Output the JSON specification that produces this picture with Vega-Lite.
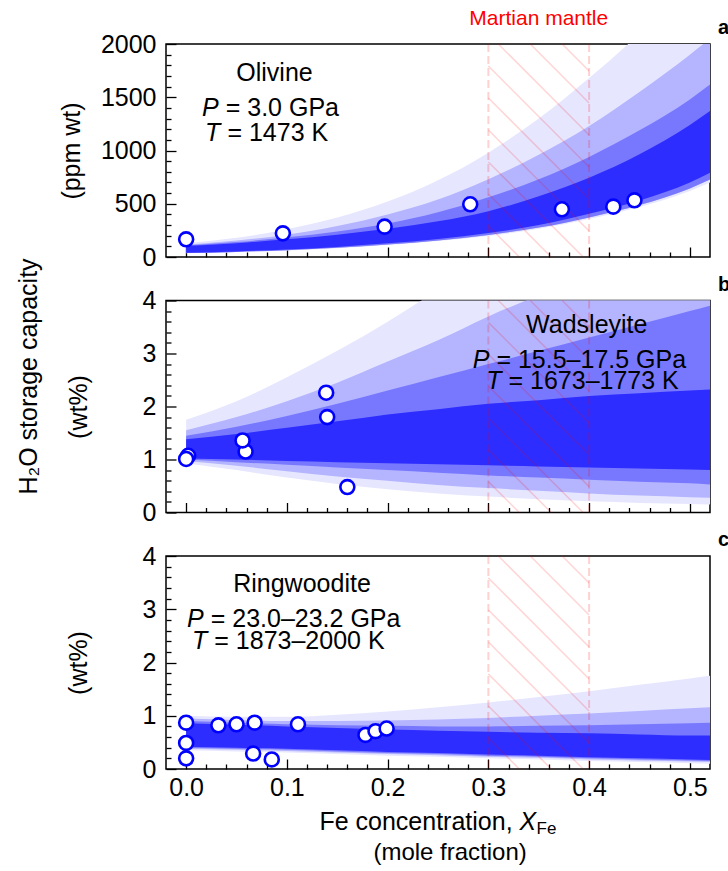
{
  "$schema": "https://vega.github.io/schema/vega-lite/v6.json",
  "padding": {"left": 15, "top": 7, "right": 0, "bottom": 0},
  "bounds": "flush",
  "spacing": 43.5,
  "background": "white",
  "config": {
    "view": {"stroke": "black", "strokeWidth": 1.5},
    "font": "Liberation Sans",
    "axis": {"grid": false, "domain": false, "tickColor": "black", "tickWidth": 1.3, "labelColor": "black", "labelFont": "Liberation Sans", "labelFontSize": 25, "titleFont": "Liberation Sans", "titleFontSize": 25, "titleFontWeight": "normal", "titleColor": "black", "labelOverlap": false, "labelFlush": false, "zindex": 1}
  },
  "datasets": {
    "bandA": [
      {"x":0,"lvl":4,"lo":40,"hi":103},{"x":0.05,"lvl":4,"lo":52,"hi":130},{"x":0.1,"lvl":4,"lo":70,"hi":166},{"x":0.15,"lvl":4,"lo":95,"hi":210},{"x":0.2,"lvl":4,"lo":128,"hi":265},{"x":0.25,"lvl":4,"lo":170,"hi":335},{"x":0.3,"lvl":4,"lo":225,"hi":430},{"x":0.35,"lvl":4,"lo":300,"hi":570},{"x":0.4,"lvl":4,"lo":405,"hi":745},{"x":0.45,"lvl":4,"lo":530,"hi":965},{"x":0.5,"lvl":4,"lo":700,"hi":1240},{"x":0.52,"lvl":4,"lo":790,"hi":1370},
      {"x":0,"lvl":3,"lo":37,"hi":108},{"x":0.05,"lvl":3,"lo":48,"hi":140},{"x":0.1,"lvl":3,"lo":64,"hi":185},{"x":0.15,"lvl":3,"lo":87,"hi":240},{"x":0.2,"lvl":3,"lo":117,"hi":315},{"x":0.25,"lvl":3,"lo":156,"hi":420},{"x":0.3,"lvl":3,"lo":207,"hi":560},{"x":0.35,"lvl":3,"lo":276,"hi":730},{"x":0.4,"lvl":3,"lo":372,"hi":940},{"x":0.45,"lvl":3,"lo":488,"hi":1190},{"x":0.5,"lvl":3,"lo":644,"hi":1480},{"x":0.52,"lvl":3,"lo":727,"hi":1620},
      {"x":0,"lvl":2,"lo":37,"hi":115},{"x":0.05,"lvl":2,"lo":48,"hi":155},{"x":0.1,"lvl":2,"lo":64,"hi":210},{"x":0.15,"lvl":2,"lo":87,"hi":290},{"x":0.2,"lvl":2,"lo":117,"hi":400},{"x":0.25,"lvl":2,"lo":156,"hi":540},{"x":0.3,"lvl":2,"lo":207,"hi":730},{"x":0.35,"lvl":2,"lo":276,"hi":960},{"x":0.4,"lvl":2,"lo":372,"hi":1230},{"x":0.45,"lvl":2,"lo":488,"hi":1550},{"x":0.5,"lvl":2,"lo":644,"hi":1900},{"x":0.52,"lvl":2,"lo":727,"hi":2050},
      {"x":0,"lvl":1,"lo":35,"hi":130},{"x":0.05,"lvl":1,"lo":46,"hi":180},{"x":0.1,"lvl":1,"lo":61,"hi":260},{"x":0.15,"lvl":1,"lo":83,"hi":370},{"x":0.2,"lvl":1,"lo":112,"hi":520},{"x":0.25,"lvl":1,"lo":150,"hi":720},{"x":0.3,"lvl":1,"lo":198,"hi":980},{"x":0.35,"lvl":1,"lo":265,"hi":1300},{"x":0.4,"lvl":1,"lo":357,"hi":1680},{"x":0.45,"lvl":1,"lo":470,"hi":2100},{"x":0.5,"lvl":1,"lo":620,"hi":2600},{"x":0.52,"lvl":1,"lo":700,"hi":2800}
    ],
    "bandB": [
      {"x":0,"lvl":4,"lo":1.02,"hi":1.38},{"x":0.05,"lvl":4,"lo":1.0,"hi":1.48},{"x":0.1,"lvl":4,"lo":0.97,"hi":1.6},{"x":0.15,"lvl":4,"lo":0.95,"hi":1.72},{"x":0.2,"lvl":4,"lo":0.93,"hi":1.85},{"x":0.25,"lvl":4,"lo":0.91,"hi":1.95},{"x":0.3,"lvl":4,"lo":0.89,"hi":2.05},{"x":0.35,"lvl":4,"lo":0.87,"hi":2.12},{"x":0.4,"lvl":4,"lo":0.85,"hi":2.2},{"x":0.45,"lvl":4,"lo":0.83,"hi":2.25},{"x":0.5,"lvl":4,"lo":0.81,"hi":2.3},{"x":0.52,"lvl":4,"lo":0.8,"hi":2.32},
      {"x":0,"lvl":3,"lo":1.0,"hi":1.45},{"x":0.05,"lvl":3,"lo":0.95,"hi":1.62},{"x":0.1,"lvl":3,"lo":0.9,"hi":1.82},{"x":0.15,"lvl":3,"lo":0.85,"hi":2.05},{"x":0.2,"lvl":3,"lo":0.8,"hi":2.3},{"x":0.25,"lvl":3,"lo":0.75,"hi":2.55},{"x":0.3,"lvl":3,"lo":0.7,"hi":2.8},{"x":0.35,"lvl":3,"lo":0.66,"hi":3.05},{"x":0.4,"lvl":3,"lo":0.62,"hi":3.3},{"x":0.45,"lvl":3,"lo":0.58,"hi":3.55},{"x":0.5,"lvl":3,"lo":0.55,"hi":3.8},{"x":0.52,"lvl":3,"lo":0.53,"hi":3.9},
      {"x":0,"lvl":2,"lo":0.97,"hi":1.55},{"x":0.05,"lvl":2,"lo":0.88,"hi":1.8},{"x":0.1,"lvl":2,"lo":0.78,"hi":2.1},{"x":0.15,"lvl":2,"lo":0.68,"hi":2.45},{"x":0.2,"lvl":2,"lo":0.6,"hi":2.85},{"x":0.25,"lvl":2,"lo":0.52,"hi":3.25},{"x":0.3,"lvl":2,"lo":0.46,"hi":3.7},{"x":0.35,"lvl":2,"lo":0.41,"hi":4.1},{"x":0.4,"lvl":2,"lo":0.36,"hi":4.5},{"x":0.45,"lvl":2,"lo":0.32,"hi":4.9},{"x":0.5,"lvl":2,"lo":0.29,"hi":5.3},{"x":0.52,"lvl":2,"lo":0.28,"hi":5.5},
      {"x":0,"lvl":1,"lo":0.93,"hi":1.75},{"x":0.05,"lvl":1,"lo":0.8,"hi":2.1},{"x":0.1,"lvl":1,"lo":0.66,"hi":2.55},{"x":0.15,"lvl":1,"lo":0.54,"hi":3.05},{"x":0.2,"lvl":1,"lo":0.44,"hi":3.6},{"x":0.25,"lvl":1,"lo":0.36,"hi":4.2},{"x":0.3,"lvl":1,"lo":0.3,"hi":4.8},{"x":0.35,"lvl":1,"lo":0.25,"hi":5.4},{"x":0.4,"lvl":1,"lo":0.21,"hi":6.0},{"x":0.45,"lvl":1,"lo":0.18,"hi":6.6},{"x":0.5,"lvl":1,"lo":0.16,"hi":7.2},{"x":0.52,"lvl":1,"lo":0.15,"hi":7.5}
    ],
    "bandC": [
      {"x":0,"lvl":4,"lo":0.42,"hi":0.86},{"x":0.05,"lvl":4,"lo":0.4,"hi":0.83},{"x":0.1,"lvl":4,"lo":0.38,"hi":0.8},{"x":0.15,"lvl":4,"lo":0.35,"hi":0.77},{"x":0.2,"lvl":4,"lo":0.32,"hi":0.74},{"x":0.25,"lvl":4,"lo":0.3,"hi":0.72},{"x":0.3,"lvl":4,"lo":0.27,"hi":0.7},{"x":0.35,"lvl":4,"lo":0.25,"hi":0.68},{"x":0.4,"lvl":4,"lo":0.22,"hi":0.67},{"x":0.45,"lvl":4,"lo":0.2,"hi":0.65},{"x":0.5,"lvl":4,"lo":0.18,"hi":0.63},{"x":0.52,"lvl":4,"lo":0.17,"hi":0.63},
      {"x":0,"lvl":3,"lo":0.4,"hi":0.9},{"x":0.05,"lvl":3,"lo":0.38,"hi":0.87},{"x":0.1,"lvl":3,"lo":0.36,"hi":0.84},{"x":0.15,"lvl":3,"lo":0.33,"hi":0.82},{"x":0.2,"lvl":3,"lo":0.3,"hi":0.81},{"x":0.25,"lvl":3,"lo":0.28,"hi":0.8},{"x":0.3,"lvl":3,"lo":0.25,"hi":0.8},{"x":0.35,"lvl":3,"lo":0.23,"hi":0.81},{"x":0.4,"lvl":3,"lo":0.2,"hi":0.82},{"x":0.45,"lvl":3,"lo":0.18,"hi":0.84},{"x":0.5,"lvl":3,"lo":0.16,"hi":0.86},{"x":0.52,"lvl":3,"lo":0.15,"hi":0.87},
      {"x":0,"lvl":2,"lo":0.38,"hi":0.95},{"x":0.05,"lvl":2,"lo":0.36,"hi":0.92},{"x":0.1,"lvl":2,"lo":0.34,"hi":0.9},{"x":0.15,"lvl":2,"lo":0.31,"hi":0.9},{"x":0.2,"lvl":2,"lo":0.28,"hi":0.91},{"x":0.25,"lvl":2,"lo":0.26,"hi":0.93},{"x":0.3,"lvl":2,"lo":0.23,"hi":0.96},{"x":0.35,"lvl":2,"lo":0.21,"hi":1.0},{"x":0.4,"lvl":2,"lo":0.18,"hi":1.04},{"x":0.45,"lvl":2,"lo":0.16,"hi":1.09},{"x":0.5,"lvl":2,"lo":0.14,"hi":1.14},{"x":0.52,"lvl":2,"lo":0.13,"hi":1.16},
      {"x":0,"lvl":1,"lo":0.35,"hi":1.0},{"x":0.05,"lvl":1,"lo":0.33,"hi":0.98},{"x":0.1,"lvl":1,"lo":0.31,"hi":0.98},{"x":0.15,"lvl":1,"lo":0.28,"hi":1.02},{"x":0.2,"lvl":1,"lo":0.25,"hi":1.08},{"x":0.25,"lvl":1,"lo":0.23,"hi":1.16},{"x":0.3,"lvl":1,"lo":0.2,"hi":1.25},{"x":0.35,"lvl":1,"lo":0.18,"hi":1.35},{"x":0.4,"lvl":1,"lo":0.15,"hi":1.46},{"x":0.45,"lvl":1,"lo":0.13,"hi":1.58},{"x":0.5,"lvl":1,"lo":0.11,"hi":1.7},{"x":0.52,"lvl":1,"lo":0.1,"hi":1.75}
    ],
    "ptsA": [{"x":0,"y":166},{"x":0.096,"y":222},{"x":0.197,"y":285},{"x":0.282,"y":495},{"x":0.373,"y":448},{"x":0.424,"y":473},{"x":0.445,"y":532}],
    "ptsB": [{"x":0.002,"y":1.07},{"x":0,"y":1.01},{"x":0.059,"y":1.15},{"x":0.056,"y":1.36},{"x":0.139,"y":2.26},{"x":0.14,"y":1.8},{"x":0.16,"y":0.48}],
    "ptsC": [{"x":0,"y":0.87},{"x":0,"y":0.49},{"x":0,"y":0.2},{"x":0.032,"y":0.82},{"x":0.05,"y":0.84},{"x":0.068,"y":0.87},{"x":0.0665,"y":0.29},{"x":0.085,"y":0.18},{"x":0.111,"y":0.84},{"x":0.178,"y":0.64},{"x":0.188,"y":0.71},{"x":0.199,"y":0.76}],
    "mantle": [{"x":0.3},{"x":0.4}],
    "hatchA": [
      {"x":0.3733,"y":2000,"xe":0.4,"ye":1746},{"x":0.3416,"y":2000,"xe":0.4,"ye":1446},{"x":0.3099,"y":2000,"xe":0.4,"ye":1145},
      {"x":0.3,"y":1793,"xe":0.4,"ye":845},{"x":0.3,"y":1493,"xe":0.4,"ye":545},{"x":0.3,"y":1192,"xe":0.4,"ye":244},
      {"x":0.3,"y":892,"xe":0.3941,"ye":0},{"x":0.3,"y":592,"xe":0.3624,"ye":0},{"x":0.3,"y":291,"xe":0.3307,"ye":0}
    ],
    "hatchBC": [
      {"x":0.3733,"y":4,"xe":0.4,"ye":3.493},{"x":0.3416,"y":4,"xe":0.4,"ye":2.892},{"x":0.3099,"y":4,"xe":0.4,"ye":2.291},
      {"x":0.3,"y":3.587,"xe":0.4,"ye":1.69},{"x":0.3,"y":2.986,"xe":0.4,"ye":1.089},{"x":0.3,"y":2.385,"xe":0.4,"ye":0.488},
      {"x":0.3,"y":1.784,"xe":0.3941,"ye":0},{"x":0.3,"y":1.183,"xe":0.3624,"ye":0},{"x":0.3,"y":0.582,"xe":0.3307,"ye":0}
    ],
    "nameA": [{"x":0.0877,"y":1728,"t":"Olivine"}],
    "symA": [{"x":0.0323,"y":1399,"t":"P"},{"x":0.034,"y":1165,"t":"T"}],
    "restA": [{"x":0.0323,"y":1399,"t":"= 3.0 GPa"},{"x":0.034,"y":1165,"t":"= 1473 K"}],
    "mars": [{"x":0.35,"y":2000,"t":"Martian mantle"}],
    "letA": [{"x":0.52,"y":2000,"t":"a"}],
    "nameB": [{"x":0.3977,"y":3.53,"t":"Wadsleyite"}],
    "symB": [{"x":0.301,"y":2.87,"t":"P"},{"x":0.313,"y":2.49,"t":"T"}],
    "restB": [{"x":0.301,"y":2.87,"t":"= 15.5–17.5 GPa"},{"x":0.313,"y":2.49,"t":"= 1673–1773 K"}],
    "letB": [{"x":0.52,"y":4,"t":"b"}],
    "nameC": [{"x":0.115,"y":3.47,"t":"Ringwoodite"}],
    "symC": [{"x":0.0174,"y":2.82,"t":"P"},{"x":0.021,"y":2.4,"t":"T"}],
    "restC": [{"x":0.0174,"y":2.82,"t":"= 23.0–23.2 GPa"},{"x":0.021,"y":2.4,"t":"= 1873–2000 K"}],
    "letC": [{"x":0.52,"y":4,"t":"c"}],
    "xt1": [{"x":0.331,"y":0,"t":"Fe concentration,"}],
    "xt2": [{"x":0.331,"y":0,"t":"X"}],
    "xt3": [{"x":0.331,"y":0,"t":"Fe"}],
    "xt4": [{"x":0.262,"y":0,"t":"(mole fraction)"}]
  },
  "vconcat": [
    {
      "width": 544, "height": 213,
      "resolve": {"axis": {"x": "independent", "y": "independent"}},
      "layer": [
        {
          "data": {"name": "bandA"}, "transform": [{"filter": "datum.lvl == 1"}],
          "mark": {"type": "area", "fill": "#e6e6ff", "clip": true, "interpolate": "monotone"},
          "encoding": {
            "x": {"field": "x", "type": "quantitative", "scale": {"domain": [-0.02, 0.52], "nice": false, "zero": false},
              "axis": {"orient": "bottom", "title": null, "labels": false, "values": [0,0.1,0.2,0.3,0.4,0.5], "tickSize": -10}},
            "y": {"field": "hi", "type": "quantitative", "scale": {"domain": [0, 2000], "nice": false, "zero": false},
              "axis": {"orient": "left", "title": "(ppm wt)", "titleX": -82, "titleY": 106.5, "labelPadding": 20, "labelOverlap": false, "format": "d",
                "values": [0,500,1000,1500,2000], "tickSize": -10}},
            "y2": {"field": "lo"}
          }
        },
        {
          "data": {"name": "bandA"}, "transform": [{"filter": "datum.lvl == 2"}],
          "mark": {"type": "area", "fill": "#b4b4ff", "clip": true, "interpolate": "monotone"},
          "encoding": {
            "x": {"field": "x", "type": "quantitative",
              "axis": {"orient": "bottom", "title": null, "labels": false, "values": [0.02,0.04,0.06,0.08,0.12,0.14,0.16,0.18,0.22,0.24,0.26,0.28,0.32,0.34,0.36,0.38,0.42,0.44,0.46,0.48], "tickSize": -5}},
            "y": {"field": "hi", "type": "quantitative",
              "axis": {"orient": "left", "title": null, "labels": false, "values": [100,200,300,400,600,700,800,900,1100,1200,1300,1400,1600,1700,1800,1900], "tickSize": -5}},
            "y2": {"field": "lo"}
          }
        },
        {
          "data": {"name": "bandA"}, "transform": [{"filter": "datum.lvl == 3"}],
          "mark": {"type": "area", "fill": "#7878ff", "clip": true, "interpolate": "monotone"},
          "encoding": {"x": {"field": "x", "type": "quantitative", "axis": null}, "y": {"field": "hi", "type": "quantitative", "axis": null}, "y2": {"field": "lo"}}
        },
        {
          "data": {"name": "bandA"}, "transform": [{"filter": "datum.lvl == 4"}],
          "mark": {"type": "area", "fill": "#2d2dff", "clip": true, "interpolate": "monotone"},
          "encoding": {"x": {"field": "x", "type": "quantitative", "axis": null}, "y": {"field": "hi", "type": "quantitative", "axis": null}, "y2": {"field": "lo"}}
        },
        {
          "data": {"name": "hatchA"},
          "mark": {"type": "rule", "stroke": "red", "strokeOpacity": 0.17, "strokeWidth": 1.5},
          "encoding": {"x": {"field": "x", "type": "quantitative", "axis": null}, "y": {"field": "y", "type": "quantitative", "axis": null}, "x2": {"field": "xe"}, "y2": {"field": "ye"}}
        },
        {
          "data": {"name": "mantle"},
          "mark": {"type": "rule", "stroke": "red", "strokeOpacity": 0.18, "strokeWidth": 2, "strokeDash": [8, 4]},
          "encoding": {"x": {"field": "x", "type": "quantitative", "axis": null}}
        },
        {
          "data": {"name": "ptsA"},
          "mark": {"type": "circle", "fill": "white", "stroke": "#0000ff", "strokeWidth": 2.6, "size": 195, "opacity": 1},
          "encoding": {"x": {"field": "x", "type": "quantitative", "axis": null}, "y": {"field": "y", "type": "quantitative", "axis": null}}
        },
        {
          "data": {"name": "nameA"},
          "mark": {"type": "text", "align": "center", "baseline": "middle", "fontSize": 25, "fill": "black", "font": "Liberation Sans"},
          "encoding": {"x": {"field": "x", "type": "quantitative", "axis": null}, "y": {"field": "y", "type": "quantitative", "axis": null}, "text": {"field": "t"}}
        },
        {
          "data": {"name": "symA"},
          "mark": {"type": "text", "align": "right", "baseline": "middle", "fontSize": 25, "fontStyle": "italic", "fill": "black", "font": "Liberation Sans"},
          "encoding": {"x": {"field": "x", "type": "quantitative", "axis": null}, "y": {"field": "y", "type": "quantitative", "axis": null}, "text": {"field": "t"}}
        },
        {
          "data": {"name": "restA"},
          "mark": {"type": "text", "align": "left", "baseline": "middle", "fontSize": 25, "fill": "black", "dx": 7, "font": "Liberation Sans"},
          "encoding": {"x": {"field": "x", "type": "quantitative", "axis": null}, "y": {"field": "y", "type": "quantitative", "axis": null}, "text": {"field": "t"}}
        },
        {
          "data": {"name": "mars"},
          "mark": {"type": "text", "align": "center", "baseline": "middle", "fontSize": 21, "fill": "red", "dy": -25, "font": "Liberation Sans"},
          "encoding": {"x": {"field": "x", "type": "quantitative", "axis": null}, "y": {"field": "y", "type": "quantitative", "axis": null}, "text": {"field": "t"}}
        },
        {
          "data": {"name": "letA"},
          "mark": {"type": "text", "align": "left", "baseline": "alphabetic", "fontSize": 20, "fontWeight": "bold", "fill": "black", "dx": 8, "dy": -10, "font": "Liberation Sans"},
          "encoding": {"x": {"field": "x", "type": "quantitative", "axis": null}, "y": {"field": "y", "type": "quantitative", "axis": null}, "text": {"field": "t"}}
        }
      ]
    },
    {
      "width": 544, "height": 212,
      "resolve": {"axis": {"x": "independent", "y": "independent"}},
      "layer": [
        {
          "data": {"name": "bandB"}, "transform": [{"filter": "datum.lvl == 1"}],
          "mark": {"type": "area", "fill": "#e6e6ff", "clip": true, "interpolate": "monotone"},
          "encoding": {
            "x": {"field": "x", "type": "quantitative", "scale": {"domain": [-0.02, 0.52], "nice": false, "zero": false},
              "axis": {"orient": "bottom", "title": null, "labels": false, "values": [0,0.1,0.2,0.3,0.4,0.5], "tickSize": -10}},
            "y": {"field": "hi", "type": "quantitative", "scale": {"domain": [0, 4], "nice": false, "zero": false},
              "axis": {"orient": "left", "title": "(wt%)", "titleX": -75, "titleY": 106, "labelPadding": 20, "labelOverlap": false, "format": "d",
                "values": [0,1,2,3,4], "tickSize": -10}},
            "y2": {"field": "lo"}
          }
        },
        {
          "data": {"name": "bandB"}, "transform": [{"filter": "datum.lvl == 2"}],
          "mark": {"type": "area", "fill": "#b4b4ff", "clip": true, "interpolate": "monotone"},
          "encoding": {
            "x": {"field": "x", "type": "quantitative",
              "axis": {"orient": "bottom", "title": null, "labels": false, "values": [0.02,0.04,0.06,0.08,0.12,0.14,0.16,0.18,0.22,0.24,0.26,0.28,0.32,0.34,0.36,0.38,0.42,0.44,0.46,0.48], "tickSize": -5}},
            "y": {"field": "hi", "type": "quantitative",
              "axis": {"orient": "left", "title": null, "labels": false, "values": [0.2,0.4,0.6,0.8,1.2,1.4,1.6,1.8,2.2,2.4,2.6,2.8,3.2,3.4,3.6,3.8], "tickSize": -5}},
            "y2": {"field": "lo"}
          }
        },
        {
          "data": {"name": "bandB"}, "transform": [{"filter": "datum.lvl == 3"}],
          "mark": {"type": "area", "fill": "#7878ff", "clip": true, "interpolate": "monotone"},
          "encoding": {"x": {"field": "x", "type": "quantitative", "axis": null}, "y": {"field": "hi", "type": "quantitative", "axis": null}, "y2": {"field": "lo"}}
        },
        {
          "data": {"name": "bandB"}, "transform": [{"filter": "datum.lvl == 4"}],
          "mark": {"type": "area", "fill": "#2d2dff", "clip": true, "interpolate": "monotone"},
          "encoding": {"x": {"field": "x", "type": "quantitative", "axis": null}, "y": {"field": "hi", "type": "quantitative", "axis": null}, "y2": {"field": "lo"}}
        },
        {
          "data": {"name": "hatchBC"},
          "mark": {"type": "rule", "stroke": "red", "strokeOpacity": 0.17, "strokeWidth": 1.5},
          "encoding": {"x": {"field": "x", "type": "quantitative", "axis": null}, "y": {"field": "y", "type": "quantitative", "axis": null}, "x2": {"field": "xe"}, "y2": {"field": "ye"}}
        },
        {
          "data": {"name": "mantle"},
          "mark": {"type": "rule", "stroke": "red", "strokeOpacity": 0.18, "strokeWidth": 2, "strokeDash": [8, 4]},
          "encoding": {"x": {"field": "x", "type": "quantitative", "axis": null}}
        },
        {
          "data": {"name": "ptsB"},
          "mark": {"type": "circle", "fill": "white", "stroke": "#0000ff", "strokeWidth": 2.6, "size": 195, "opacity": 1},
          "encoding": {"x": {"field": "x", "type": "quantitative", "axis": null},
            "y": {"field": "y", "type": "quantitative", "axis": {"title": "H₂O storage capacity", "orient": "left", "labels": false, "ticks": false, "domain": false, "titleX": -125, "titleY": 75.5}}}
        },
        {
          "data": {"name": "nameB"},
          "mark": {"type": "text", "align": "center", "baseline": "middle", "fontSize": 25, "fill": "black", "font": "Liberation Sans"},
          "encoding": {"x": {"field": "x", "type": "quantitative", "axis": null}, "y": {"field": "y", "type": "quantitative", "axis": null}, "text": {"field": "t"}}
        },
        {
          "data": {"name": "symB"},
          "mark": {"type": "text", "align": "right", "baseline": "middle", "fontSize": 25, "fontStyle": "italic", "fill": "black", "font": "Liberation Sans"},
          "encoding": {"x": {"field": "x", "type": "quantitative", "axis": null}, "y": {"field": "y", "type": "quantitative", "axis": null}, "text": {"field": "t"}}
        },
        {
          "data": {"name": "restB"},
          "mark": {"type": "text", "align": "left", "baseline": "middle", "fontSize": 25, "fill": "black", "dx": 7, "font": "Liberation Sans"},
          "encoding": {"x": {"field": "x", "type": "quantitative", "axis": null}, "y": {"field": "y", "type": "quantitative", "axis": null}, "text": {"field": "t"}}
        },
        {
          "data": {"name": "letB"},
          "mark": {"type": "text", "align": "left", "baseline": "alphabetic", "fontSize": 20, "fontWeight": "bold", "fill": "black", "dx": 8, "dy": -10, "font": "Liberation Sans"},
          "encoding": {"x": {"field": "x", "type": "quantitative", "axis": null}, "y": {"field": "y", "type": "quantitative", "axis": null}, "text": {"field": "t"}}
        }
      ]
    },
    {
      "width": 544, "height": 213,
      "resolve": {"axis": {"x": "independent", "y": "independent"}},
      "layer": [
        {
          "data": {"name": "bandC"}, "transform": [{"filter": "datum.lvl == 1"}],
          "mark": {"type": "area", "fill": "#e6e6ff", "clip": true, "interpolate": "monotone"},
          "encoding": {
            "x": {"field": "x", "type": "quantitative", "scale": {"domain": [-0.02, 0.52], "nice": false, "zero": false},
              "axis": {"orient": "bottom", "title": null, "labelPadding": 16, "labelOverlap": false, "format": ".1f", "values": [0,0.1,0.2,0.3,0.4,0.5], "tickSize": -10}},
            "y": {"field": "hi", "type": "quantitative", "scale": {"domain": [0, 4], "nice": false, "zero": false},
              "axis": {"orient": "left", "title": "(wt%)", "titleX": -75, "titleY": 106.5, "labelPadding": 20, "labelOverlap": false, "format": "d",
                "values": [0,1,2,3,4], "tickSize": -10}},
            "y2": {"field": "lo"}
          }
        },
        {
          "data": {"name": "bandC"}, "transform": [{"filter": "datum.lvl == 2"}],
          "mark": {"type": "area", "fill": "#b4b4ff", "clip": true, "interpolate": "monotone"},
          "encoding": {
            "x": {"field": "x", "type": "quantitative",
              "axis": {"orient": "bottom", "title": null, "labels": false, "values": [0.02,0.04,0.06,0.08,0.12,0.14,0.16,0.18,0.22,0.24,0.26,0.28,0.32,0.34,0.36,0.38,0.42,0.44,0.46,0.48], "tickSize": -5}},
            "y": {"field": "hi", "type": "quantitative",
              "axis": {"orient": "left", "title": null, "labels": false, "values": [0.2,0.4,0.6,0.8,1.2,1.4,1.6,1.8,2.2,2.4,2.6,2.8,3.2,3.4,3.6,3.8], "tickSize": -5}},
            "y2": {"field": "lo"}
          }
        },
        {
          "data": {"name": "bandC"}, "transform": [{"filter": "datum.lvl == 3"}],
          "mark": {"type": "area", "fill": "#7878ff", "clip": true, "interpolate": "monotone"},
          "encoding": {"x": {"field": "x", "type": "quantitative", "axis": null}, "y": {"field": "hi", "type": "quantitative", "axis": null}, "y2": {"field": "lo"}}
        },
        {
          "data": {"name": "bandC"}, "transform": [{"filter": "datum.lvl == 4"}],
          "mark": {"type": "area", "fill": "#2d2dff", "clip": true, "interpolate": "monotone"},
          "encoding": {"x": {"field": "x", "type": "quantitative", "axis": null}, "y": {"field": "hi", "type": "quantitative", "axis": null}, "y2": {"field": "lo"}}
        },
        {
          "data": {"name": "hatchBC"},
          "mark": {"type": "rule", "stroke": "red", "strokeOpacity": 0.17, "strokeWidth": 1.5},
          "encoding": {"x": {"field": "x", "type": "quantitative", "axis": null}, "y": {"field": "y", "type": "quantitative", "axis": null}, "x2": {"field": "xe"}, "y2": {"field": "ye"}}
        },
        {
          "data": {"name": "mantle"},
          "mark": {"type": "rule", "stroke": "red", "strokeOpacity": 0.18, "strokeWidth": 2, "strokeDash": [8, 4]},
          "encoding": {"x": {"field": "x", "type": "quantitative", "axis": null}}
        },
        {
          "data": {"name": "ptsC"},
          "mark": {"type": "circle", "fill": "white", "stroke": "#0000ff", "strokeWidth": 2.6, "size": 195, "opacity": 1},
          "encoding": {"x": {"field": "x", "type": "quantitative", "axis": null}, "y": {"field": "y", "type": "quantitative", "axis": null}}
        },
        {
          "data": {"name": "nameC"},
          "mark": {"type": "text", "align": "center", "baseline": "middle", "fontSize": 25, "fill": "black", "font": "Liberation Sans"},
          "encoding": {"x": {"field": "x", "type": "quantitative", "axis": null}, "y": {"field": "y", "type": "quantitative", "axis": null}, "text": {"field": "t"}}
        },
        {
          "data": {"name": "symC"},
          "mark": {"type": "text", "align": "right", "baseline": "middle", "fontSize": 25, "fontStyle": "italic", "fill": "black", "font": "Liberation Sans"},
          "encoding": {"x": {"field": "x", "type": "quantitative", "axis": null}, "y": {"field": "y", "type": "quantitative", "axis": null}, "text": {"field": "t"}}
        },
        {
          "data": {"name": "restC"},
          "mark": {"type": "text", "align": "left", "baseline": "middle", "fontSize": 25, "fill": "black", "dx": 7, "font": "Liberation Sans"},
          "encoding": {"x": {"field": "x", "type": "quantitative", "axis": null}, "y": {"field": "y", "type": "quantitative", "axis": null}, "text": {"field": "t"}}
        },
        {
          "data": {"name": "letC"},
          "mark": {"type": "text", "align": "left", "baseline": "alphabetic", "fontSize": 20, "fontWeight": "bold", "fill": "black", "dx": 8, "dy": -10, "font": "Liberation Sans"},
          "encoding": {"x": {"field": "x", "type": "quantitative", "axis": null}, "y": {"field": "y", "type": "quantitative", "axis": null}, "text": {"field": "t"}}
        },
        {
          "data": {"name": "xt1"},
          "mark": {"type": "text", "align": "right", "baseline": "middle", "fontSize": 25, "fill": "black", "dx": -7, "dy": 53, "font": "Liberation Sans"},
          "encoding": {"x": {"field": "x", "type": "quantitative", "axis": null}, "y": {"field": "y", "type": "quantitative", "axis": null}, "text": {"field": "t"}}
        },
        {
          "data": {"name": "xt2"},
          "mark": {"type": "text", "align": "left", "baseline": "middle", "fontSize": 25, "fontStyle": "italic", "fill": "black", "dy": 53, "font": "Liberation Sans"},
          "encoding": {"x": {"field": "x", "type": "quantitative", "axis": null}, "y": {"field": "y", "type": "quantitative", "axis": null}, "text": {"field": "t"}}
        },
        {
          "data": {"name": "xt3"},
          "mark": {"type": "text", "align": "left", "baseline": "middle", "fontSize": 17, "fill": "black", "dx": 17, "dy": 60, "font": "Liberation Sans"},
          "encoding": {"x": {"field": "x", "type": "quantitative", "axis": null}, "y": {"field": "y", "type": "quantitative", "axis": null}, "text": {"field": "t"}}
        },
        {
          "data": {"name": "xt4"},
          "mark": {"type": "text", "align": "center", "baseline": "middle", "fontSize": 24, "fill": "black", "dy": 84, "font": "Liberation Sans"},
          "encoding": {"x": {"field": "x", "type": "quantitative", "axis": null}, "y": {"field": "y", "type": "quantitative", "axis": null}, "text": {"field": "t"}}
        }
      ]
    }
  ]
}
